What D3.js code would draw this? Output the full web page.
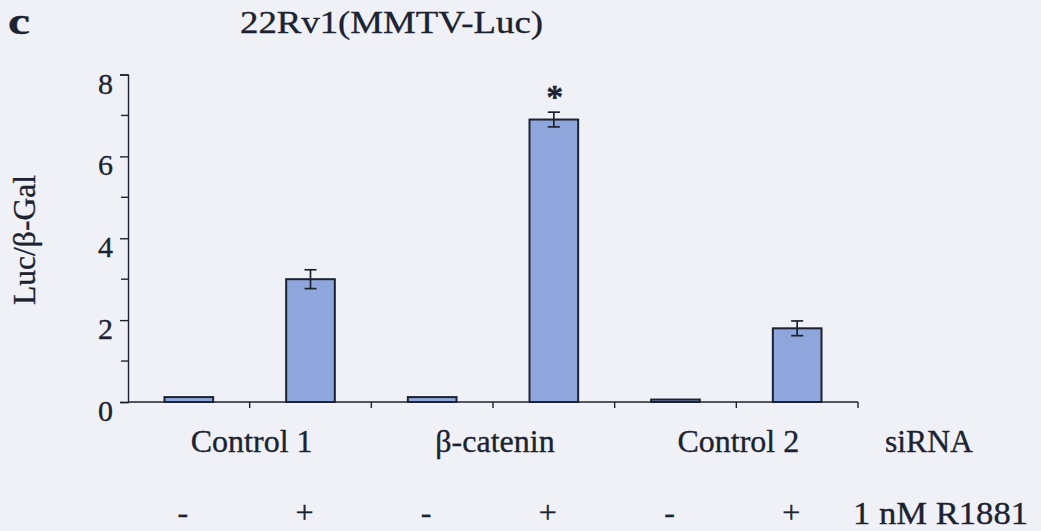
<!DOCTYPE html>
<html>
<head>
<meta charset="utf-8">
<script src="https://cdn.jsdelivr.net/npm/d3@7"></script>
<style>
  html, body { margin: 0; padding: 0; background: #f0f1f6; }
  svg { display: block; font-family: "Liberation Serif", "Times New Roman", serif; }
  text { stroke: #1c2330; stroke-width: 0.35px; }
</style>
</head>
<body>
<svg id="chart" width="1041" height="531"></svg>
<script>
// Luciferase reporter activity (Luc/β-Gal) in 22Rv1 cells
const siRNAGroups = ["Control 1", "β-catenin", "Control 2"];
const treatments = ["-", "+"];
const luc = [0.12, 3.0, 0.12, 6.9, 0.06, 1.8];
const lucErr = [0, 0.23, 0, 0.18, 0, 0.18];
const significant = [false, false, false, true, false, false];
const yTicks = [0, 2, 4, 6, 8];
const yMinorTicks = [1, 3, 5, 7];

const svg = d3.select("#chart");
const margin = { left: 128, right: 183, top: 74.5, bottom: 129 };
const W = 1041, H = 531;
const serif = "'Liberation Serif', 'Times New Roman', serif";

const bars = luc.map((v, i) => ({
  id: i,
  group: siRNAGroups[Math.floor(i / 2)],
  treat: treatments[i % 2],
  value: v,
  err: lucErr[i],
  sig: significant[i]
}));

const x = d3.scaleBand()
  .domain(bars.map(d => d.id))
  .range([margin.left, W - margin.right])
  .paddingInner(0.6)
  .paddingOuter(0.3);
// band boundaries for the category ticks on the baseline
const step = x.step();
const x0 = margin.left;

const y = d3.scaleLinear().domain([0, 8]).range([H - margin.bottom, margin.top]);

const ink = "#1c2330";

// y axis
const yAxis = d3.axisLeft(y).tickValues(yTicks).tickSize(8).tickPadding(7).tickFormat(d3.format("d"));
const gy = svg.append("g").attr("transform", `translate(${margin.left},0)`).call(yAxis);
gy.select(".domain").attr("stroke", ink).attr("stroke-width", 1.4);
gy.selectAll(".tick line").attr("stroke", ink).attr("stroke-width", 1.4);
gy.selectAll(".tick text").attr("fill", ink).attr("dy", "0.62em")
  .style("font-size", "30px").style("font-family", serif);
gy.selectAll(".minor").data(yMinorTicks).enter().append("line")
  .attr("x1", -7).attr("x2", 0)
  .attr("y1", d => y(d)).attr("y2", d => y(d))
  .attr("stroke", ink).attr("stroke-width", 1.4);

// x baseline with ticks at category boundaries
const gx = svg.append("g");
gx.append("line")
  .attr("x1", x0).attr("x2", W - margin.right)
  .attr("y1", y(0)).attr("y2", y(0))
  .attr("stroke", ink).attr("stroke-width", 1.4);
gx.selectAll("line.tick").data(d3.range(1, bars.length + 1)).enter().append("line")
  .attr("class", "tick")
  .attr("x1", k => x0 + k * step).attr("x2", k => x0 + k * step)
  .attr("y1", y(0)).attr("y2", y(0) + 6)
  .attr("stroke", ink).attr("stroke-width", 1.4);

// bars
svg.append("g").selectAll("rect").data(bars).enter().append("rect")
  .attr("x", d => x(d.id))
  .attr("width", x.bandwidth())
  .attr("y", d => y(d.value))
  .attr("height", d => y(0) - y(d.value))
  .attr("fill", "#8ea6dc")
  .attr("stroke", ink)
  .attr("stroke-width", 2);

// error bars
const cap = 6;
const eb = svg.append("g").selectAll("g").data(bars.filter(d => d.err > 0)).enter().append("g")
  .attr("stroke", ink).attr("stroke-width", 1.7);
const cx = d => x(d.id) + x.bandwidth() / 2;
eb.append("line")
  .attr("x1", cx).attr("x2", cx)
  .attr("y1", d => y(d.value + d.err)).attr("y2", d => y(d.value - d.err));
eb.append("line")
  .attr("x1", d => cx(d) - cap).attr("x2", d => cx(d) + cap)
  .attr("y1", d => y(d.value + d.err)).attr("y2", d => y(d.value + d.err));
eb.append("line")
  .attr("x1", d => cx(d) - cap).attr("x2", d => cx(d) + cap)
  .attr("y1", d => y(d.value - d.err)).attr("y2", d => y(d.value - d.err));

// significance marker
svg.append("g").selectAll("text").data(bars.filter(d => d.sig)).enter().append("text")
  .attr("x", d => cx(d) + 1)
  .attr("y", d => y(d.value + d.err) - 4)
  .attr("text-anchor", "middle")
  .attr("fill", ink)
  .style("font-size", "34px")
  .style("font-weight", "bold")
  .text("*");

// siRNA group labels centred under each pair
svg.append("g").selectAll("text").data(siRNAGroups).enter().append("text")
  .attr("x", (d, g) => x0 + (2 * g + 1) * step + 2)
  .attr("y", 452)
  .attr("text-anchor", "middle")
  .attr("fill", ink)
  .style("font-size", "32px")
  .text(d => d);

// treatment signs under each bar
svg.append("g").selectAll("text").data(bars).enter().append("text")
  .attr("x", d => cx(d) - 6)
  .attr("y", 523)
  .attr("text-anchor", "middle")
  .attr("fill", ink)
  .style("font-size", "32px")
  .text(d => d.treat);

// row captions
svg.append("text").attr("x", 885).attr("y", 452).attr("fill", ink)
  .style("font-size", "31px").attr("textLength", 88).attr("lengthAdjust", "spacingAndGlyphs")
  .text("siRNA");
svg.append("text").attr("x", 853).attr("y", 524).attr("fill", ink)
  .style("font-size", "32px").attr("textLength", 175).attr("lengthAdjust", "spacingAndGlyphs")
  .text("1 nM R1881");

// y axis title
svg.append("text")
  .attr("transform", `translate(35,240) rotate(-90)`)
  .attr("text-anchor", "middle")
  .attr("fill", ink)
  .style("font-size", "32px")
  .attr("textLength", 130).attr("lengthAdjust", "spacingAndGlyphs")
  .text("Luc/β-Gal");

// chart title and panel letter
svg.append("text").attr("x", 240).attr("y", 33).attr("fill", ink)
  .style("font-size", "31px").attr("textLength", 303).attr("lengthAdjust", "spacingAndGlyphs")
  .text("22Rv1(MMTV-Luc)");
svg.append("text").attr("x", 8).attr("y", 34).attr("fill", ink)
  .style("font-size", "38px").style("font-weight", "bold")
  .attr("textLength", 22).attr("lengthAdjust", "spacingAndGlyphs")
  .text("c");
</script>
</body>
</html>
